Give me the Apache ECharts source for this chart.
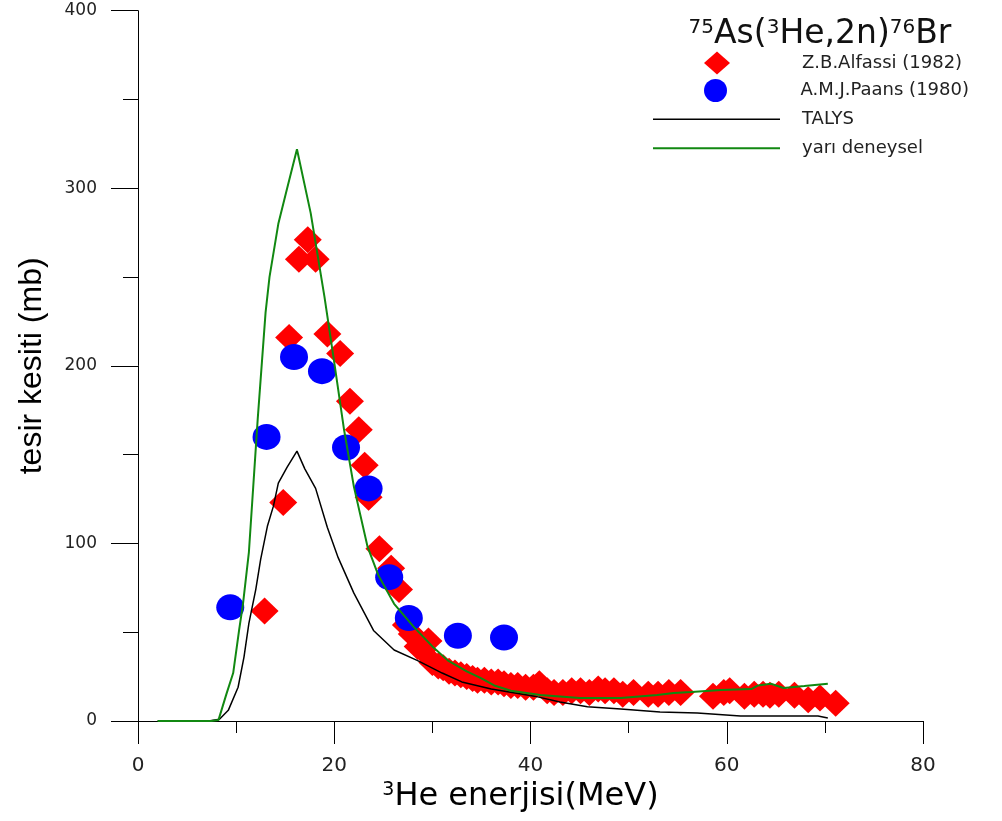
<!DOCTYPE html>
<html><head><meta charset="utf-8">
<script src="https://cdn.jsdelivr.net/npm/echarts@6/dist/echarts.min.js"></script>
<style>html,body{margin:0;padding:0;background:#fff}#c{width:1002px;height:821px}</style>
</head><body><div id="c"></div>
<script>
// ---- data ----
const alfassiE = [12.9,14.8,15.4,16.4,17.3,18.1,19.3,20.6,21.6,22.5,23.1,23.5,24.6,25.8,26.6,27.3,27.9,28.5,29.0,29.6,30.0,30.6,31.1,31.7,32.3,32.9,33.5,34.1,34.6,35.3,36.0,36.7,37.3,38.0,38.7,39.5,40.3,40.9,41.7,42.4,43.3,44.2,45.1,46.0,46.9,47.6,48.5,49.4,50.5,52.0,53.0,54.1,55.3,58.6,59.7,60.3,61.8,62.8,63.7,64.4,65.3,66.9,68.3,69.5,71.1];
const alfassiS = [62,123,216,260,271,260,218,207,180,164,144,126,97,86,74,54,49,42,40,45,33,31,30,28,27,26,25,24,23,23,22,22,21,20,20,19,19,21,17,16,16,17,17,16,18,17,17,15,16,15,15,16,16,14,16,17,14,15,15,14.5,15,14.5,12,13,10];
const paansE = [9.4,13.1,15.9,18.75,21.2,23.5,25.6,27.6,32.6,37.3];
const paansS = [64,160,205,197,154,131,81,58,48,47];
const talysE = [2,7.2,8.3,9.2,10.2,10.8,11.3,12.0,12.5,13.2,13.8,14.3,15.2,16.2,17.0,18.1,19.3,20.4,22.0,24.0,26.1,28.5,31,33,36,40.4,43,45.8,49.2,53.2,57,61.4,66,69.3,70.3];
const talysS = [0,0,1,6,19,36,55,74,91,110,121,134,143,152,142,131,109,92,72,51,40,34,27,22,18,14,10.7,8,6.7,5,4.5,2.8,2.8,2.8,1.7];
const semiE = [2,7.5,8.2,9,9.7,10.3,10.7,11.3,12.2,13.0,13.4,14.3,15.2,16.2,17.6,19.0,20.0,21.0,22.0,23.4,24.5,26.1,28.1,30.0,31.6,33.5,35.0,36.3,38,41,45,49.2,52.9,54.6,56.4,59.4,62.5,63.2,64.5,65.8,67.9,70.3];
const semiS = [0,0,0.5,15,27,51,66,95,170,230,250,280,300,322,286,239,202,164,132,98,82,66,53,42,34,28,24,20,17,14.6,13,13,14.6,15.8,16.3,17.5,18,20,21,18.6,19.7,21];
const names = ['Z.B.Alfassi (1982)','A.M.J.Paans (1980)','TALYS','yarı deneysel'];
const xTitle = '{s|3}He enerjisi(MeV)';
const yTitle = 'tesir kesiti (mb)';
const chartTitle = '{s|75}As({s|3}He,2n){s|76}Br';

const zip = (a,b) => a.map((v,i)=>[v,b[i]]);
const DV = 'DejaVu Sans';
const legTextSym = {fontFamily:DV,fontSize:18,color:'#222',padding:[0,0,0,67]};
const legTextLine = {fontFamily:DV,fontSize:18,color:'#222',padding:[0,0,0,17]};
const chart = echarts.init(document.getElementById('c'), null, {renderer:'canvas'});
chart.setOption({
  animation:false,
  backgroundColor:'#fff',
  grid:{left:138,right:79,top:10.7,bottom:100,containLabel:false},
  graphic:[{type:'text',x:820,y:18,style:{text:chartTitle,align:'center',verticalAlign:'top',
    fontFamily:DV,fontSize:33,fill:'#111',
    rich:{s:{fontFamily:DV,fontSize:20,verticalAlign:'top',fill:'#111'}}}}],
  legend:[
    {data:[names[0]],left:704,top:51.5,itemWidth:26,itemHeight:23,padding:0,textStyle:legTextSym},
    {data:[names[1]],left:704,top:79,itemWidth:26,itemHeight:23,padding:0,textStyle:legTextSym},
    {data:[{name:names[2],icon:'rect'}],left:653,top:110.3,itemWidth:127,itemHeight:1.5,padding:0,textStyle:legTextLine},
    {data:[{name:names[3],icon:'rect'}],left:653,top:139.3,itemWidth:127,itemHeight:2,padding:0,textStyle:legTextLine}
  ],
  xAxis:{type:'value',min:0,max:80,interval:20,
    axisLine:{onZero:false,lineStyle:{color:'#000',width:1}},
    axisTick:{length:23,lineStyle:{color:'#000',width:1}},
    minorTick:{show:true,splitNumber:2,length:12,lineStyle:{color:'#000',width:1}},
    splitLine:{show:false},
    axisLabel:{margin:35,fontFamily:DV,fontSize:20,color:'#222'},
    name:xTitle,nameLocation:'middle',nameGap:55,
    nameTextStyle:{fontFamily:DV,fontSize:32,color:'#000',padding:[0,20,0,0],
      rich:{s:{fontFamily:DV,fontSize:19,verticalAlign:'top',color:'#000'}}}},
  yAxis:{type:'value',min:0,max:400,interval:100,
    axisLine:{show:true,onZero:false,lineStyle:{color:'#000',width:1}},
    axisTick:{show:true,length:27,lineStyle:{color:'#000',width:1}},
    minorTick:{show:true,splitNumber:2,length:15,lineStyle:{color:'#000',width:1}},
    splitLine:{show:false},
    axisLabel:{margin:41,fontFamily:DV,fontSize:17,color:'#222'},
    name:yTitle,nameLocation:'middle',nameGap:90,
    nameTextStyle:{fontFamily:'Liberation Sans',fontSize:32,color:'#000'}},
  series:[
    {name:names[2],type:'line',data:zip(talysE,talysS),symbol:'none',lineStyle:{color:'#000',width:1.5},itemStyle:{color:'#000'}},
    {name:names[0],type:'scatter',data:zip(alfassiE,alfassiS),symbol:'diamond',symbolSize:[28,27],itemStyle:{color:'#ff0000',opacity:1}},
    {name:names[1],type:'scatter',data:zip(paansE,paansS),symbol:'circle',symbolSize:[28,26],itemStyle:{color:'#0000ff',opacity:1}},
    {name:names[3],type:'line',data:zip(semiE,semiS),symbol:'none',lineStyle:{color:'#118811',width:2},itemStyle:{color:'#118811'}}
  ]
});
</script></body></html>
